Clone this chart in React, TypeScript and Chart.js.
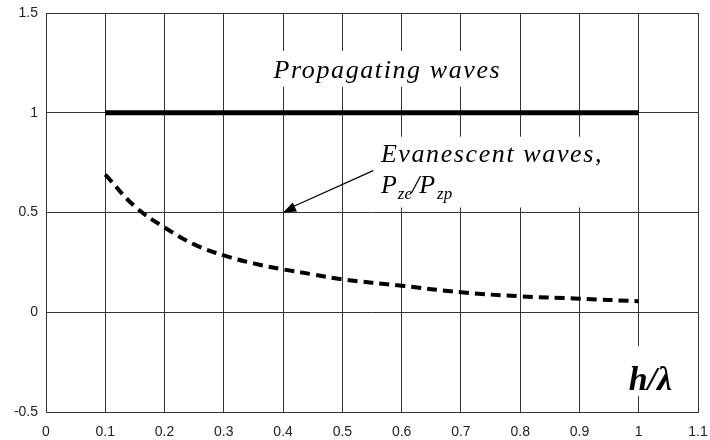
import React, { useEffect, useRef } from "react";
import { Chart, registerables } from "chart.js";

Chart.register(...registerables);

const hOverLambda = [0.1, 0.15, 0.2, 0.25, 0.3, 0.35, 0.4, 0.45, 0.5, 0.6, 0.7, 0.8, 0.9, 1.0];
const evanescent = [0.69, 0.53, 0.425, 0.34, 0.285, 0.245, 0.215, 0.19, 0.165, 0.133, 0.1, 0.08, 0.068, 0.055];
const propX = [0.1, 1.0];
const propagating = [1, 1];
const xTicks = [0, 0.1, 0.2, 0.3, 0.4, 0.5, 0.6, 0.7, 0.8, 0.9, 1, 1.1];
const yTicks = [-0.5, 0, 0.5, 1, 1.5];

const SERIF = "'Liberation Serif', 'Times New Roman', serif";

const annotationPlugin = {
  id: "annots",
  afterDraw(chart: any) {
    const ctx = chart.ctx as CanvasRenderingContext2D;
    const xs = chart.scales.x;
    const ys = chart.scales.y;
    const px = (v: number) => xs.getPixelForValue(v);
    const py = (v: number) => ys.getPixelForValue(v);
    ctx.save();
    // Propagating waves label
    ctx.fillStyle = "#ffffff";
    const pL = px(0.38), pT = py(1.31);
    ctx.fillRect(pL, pT, px(0.79) - pL, py(1.13) - pT);
    ctx.fillStyle = "#000";
    ctx.font = "italic 26px " + SERIF;
    (ctx as any).letterSpacing = "1.6px";
    ctx.textBaseline = "alphabetic";
    ctx.textAlign = "left";
    ctx.fillText("Propagating waves", px(0.384), py(1.175));

    // Evanescent label
    ctx.fillStyle = "#ffffff";
    const eL = px(0.545), eT = py(0.88);
    ctx.fillRect(eL, eT, px(0.935) - eL, py(0.525) - eT);
    ctx.fillStyle = "#000";
    ctx.fillText("Evanescent waves,", px(0.565), py(0.755));
    (ctx as any).letterSpacing = "0px";
    let x = px(0.565);
    const base = py(0.6);
    ctx.font = "italic 26px " + SERIF;
    ctx.fillText("P", x, base);
    x += ctx.measureText("P").width + 1;
    ctx.font = "italic 17px " + SERIF;
    ctx.fillText("ze", x, base + 6);
    x += ctx.measureText("ze").width;
    ctx.font = "italic 26px " + SERIF;
    ctx.fillText("/P", x, base);
    x += ctx.measureText("/P").width + 2;
    ctx.font = "italic 17px " + SERIF;
    ctx.fillText("zp", x, base + 6);

    // Arrow
    const ax0 = px(0.552), ay0 = py(0.71);
    const ax1 = px(0.4), ay1 = py(0.5);
    ctx.strokeStyle = "#000";
    ctx.lineWidth = 1.2;
    ctx.beginPath();
    ctx.moveTo(ax0, ay0);
    ctx.lineTo(ax1 + 8, ay1 - 5);
    ctx.stroke();
    const ang = Math.atan2(ay1 - ay0, ax1 - ax0);
    const L = 13, W = 5;
    ctx.beginPath();
    ctx.moveTo(ax1, ay1);
    ctx.lineTo(ax1 - L * Math.cos(ang) + W * Math.sin(ang), ay1 - L * Math.sin(ang) - W * Math.cos(ang));
    ctx.lineTo(ax1 - L * Math.cos(ang) - W * Math.sin(ang), ay1 - L * Math.sin(ang) + W * Math.cos(ang));
    ctx.closePath();
    ctx.fillStyle = "#000";
    ctx.fill();

    // h/lambda label
    ctx.fillStyle = "#ffffff";
    const hL = px(0.975), hT = py(-0.17);
    ctx.fillRect(hL, hT, px(1.095) - hL, py(-0.42) - hT);
    ctx.fillStyle = "#000";
    ctx.font = "bold italic 34px " + SERIF;
    ctx.fillText("h/\u03bb", px(0.983), py(-0.39));
    ctx.restore();
  },
};

export default function App() {
  const ref = useRef<HTMLCanvasElement>(null);
  useEffect(() => {
    document.body.style.margin = "0";
    const chart = new Chart(ref.current!, {
      type: "scatter",
      data: {
        datasets: [
          {
            data: propX.map((x, i) => ({ x, y: propagating[i] })),
            showLine: true,
            borderColor: "#000",
            borderWidth: 5,
            pointRadius: 0,
          },
          {
            data: hOverLambda.map((x, i) => ({ x, y: evanescent[i] })),
            showLine: true,
            borderColor: "#000",
            borderWidth: 4,
            borderDash: [10, 6],
            tension: 0.4,
            pointRadius: 0,
          },
        ],
      },
      options: {
        animation: false,
        responsive: false,
        devicePixelRatio: 1,
        layout: { padding: { top: 13, right: 12, left: 0, bottom: 0 } },
        plugins: { legend: { display: false }, tooltip: { enabled: false } },
        scales: {
          x: {
            type: "linear",
            min: 0,
            max: 1.1,
            afterBuildTicks: (s: any) => {
              s.ticks = xTicks.map((v) => ({ value: v }));
            },
            afterFit: (s: any) => {
              s.height = 28;
              s.paddingLeft = 0;
              s.paddingRight = 0;
            },
            grid: { color: "#333", lineWidth: 1, drawTicks: false },
            border: { color: "#333", width: 1 },
            ticks: {
              padding: 12,
              color: "#222",
              font: { family: "'Liberation Sans', Arial, sans-serif", size: 14 },
              callback: (v: any) => String(Math.round(Number(v) * 10) / 10),
              maxRotation: 0,
            },
          },
          y: {
            type: "linear",
            min: -0.5,
            max: 1.5,
            afterBuildTicks: (s: any) => {
              s.ticks = yTicks.map((v) => ({ value: v }));
            },
            afterFit: (s: any) => {
              s.width = 46;
              s.paddingTop = 0;
              s.paddingBottom = 0;
            },
            grid: { color: "#333", lineWidth: 1, drawTicks: false },
            border: { color: "#333", width: 1 },
            ticks: {
              padding: 8,
              color: "#222",
              font: { family: "'Liberation Sans', Arial, sans-serif", size: 14 },
              callback: (v: any) => String(Math.round(Number(v) * 10) / 10),
            },
          },
        },
      },
      plugins: [
        annotationPlugin,
        {
          id: "rightTopBorder",
          beforeDatasetsDraw(c: any) {
            const { left, right, top, bottom } = c.chartArea;
            const ctx = c.ctx;
            ctx.save();
            ctx.strokeStyle = "#333";
            ctx.lineWidth = 1;
            ctx.strokeRect(Math.round(left) + 0.5, Math.round(top) + 0.5, Math.round(right - left), Math.round(bottom - top));
            ctx.restore();
          },
        },
      ],
    } as any);
    return () => chart.destroy();
  }, []);
  return (
    <div style={{ position: "fixed", left: 0, top: 0, width: 710, height: 440, background: "#fff" }}>
      <canvas ref={ref} width={710} height={440} style={{ width: 710, height: 440 }} />
    </div>
  );
}
